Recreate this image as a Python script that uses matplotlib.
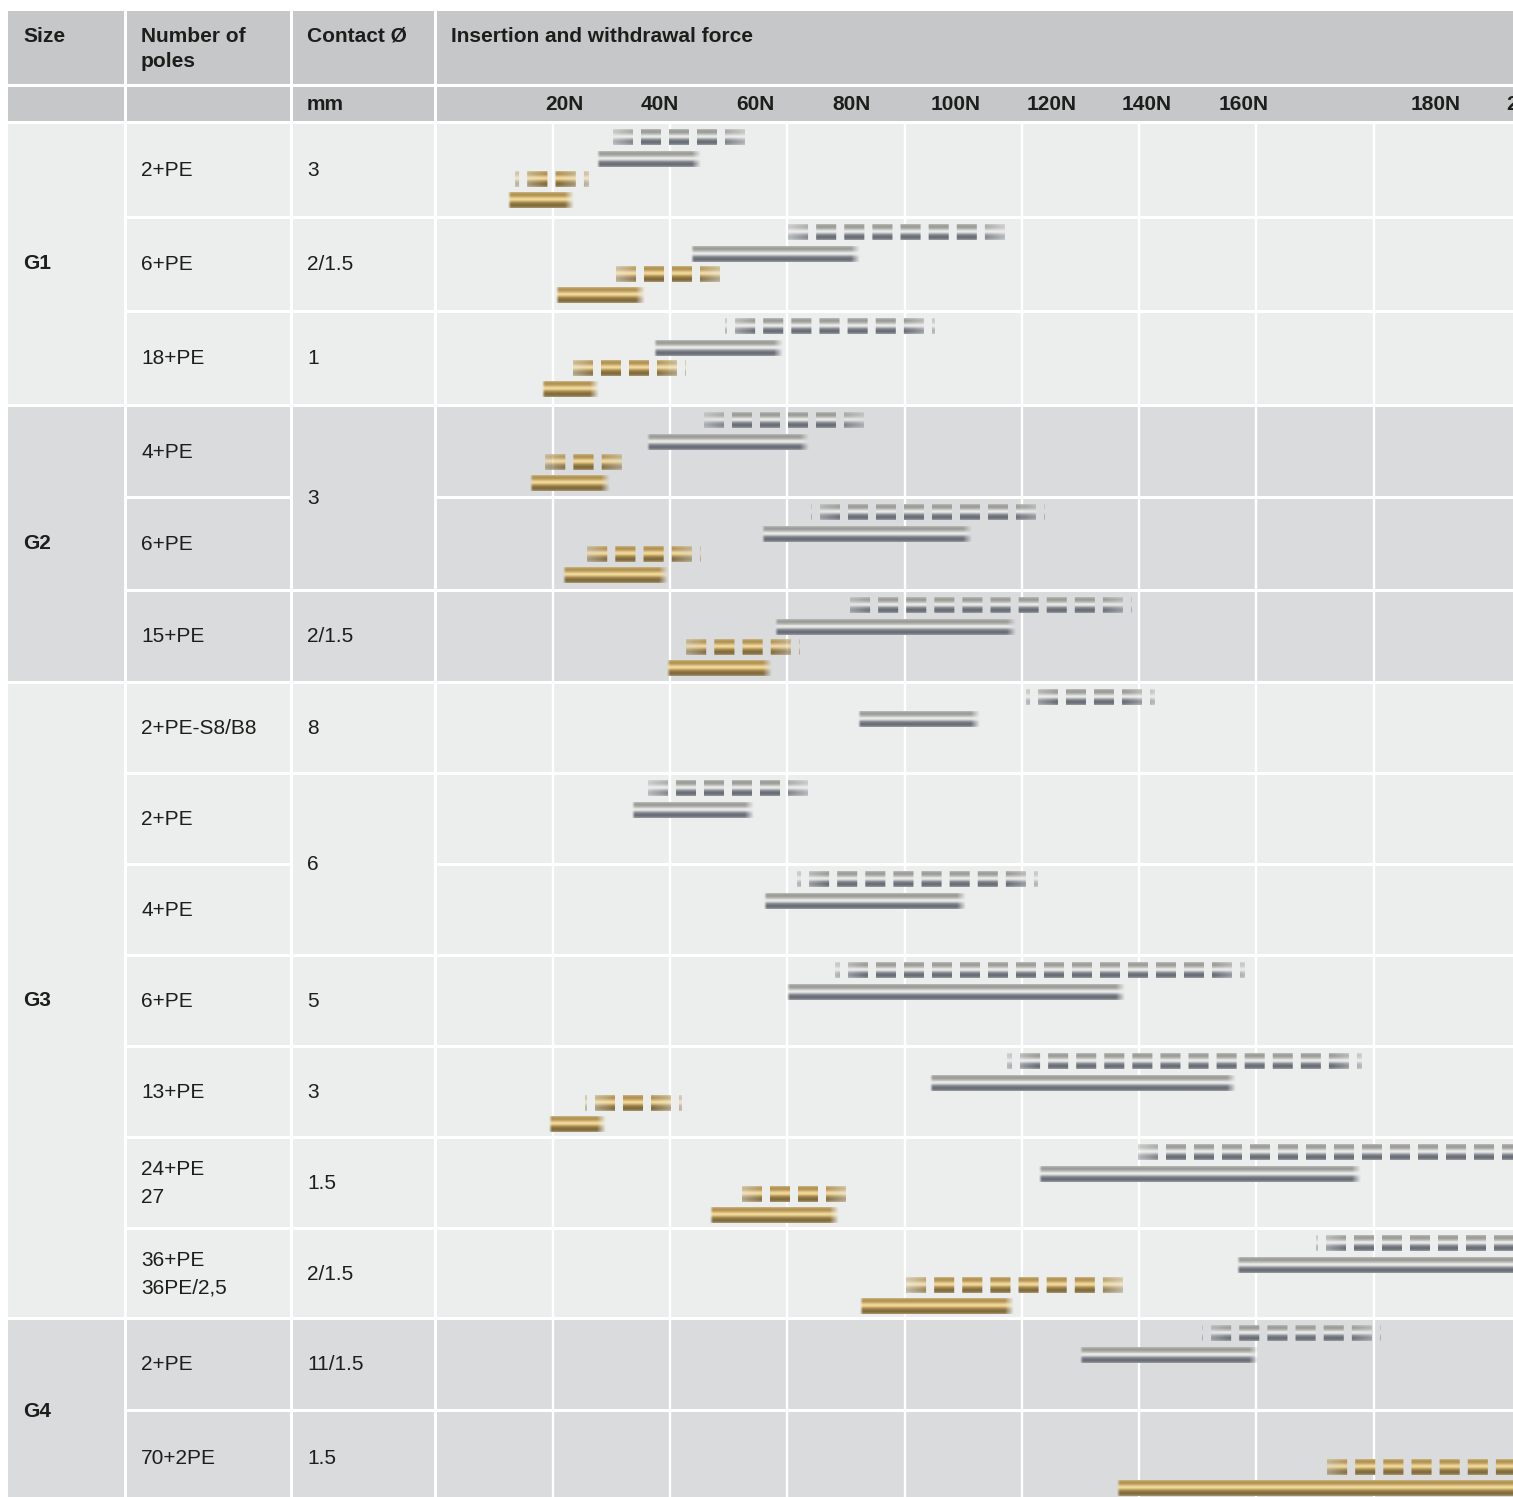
import numpy as np
import matplotlib.pyplot as plt
from matplotlib.colors import to_rgb
from matplotlib.patches import Rectangle

plt.rcParams['font.family'] = ['Liberation Sans', 'DejaVu Sans']

# ---- table content ----
sizes = ["G1", "G2", "G3", "G4"]
size_rows = [3, 3, 7, 2]
poles = ["2+PE", "6+PE", "18+PE", "4+PE", "6+PE", "15+PE", "2+PE-S8/B8", "2+PE",
         "4+PE", "6+PE", "13+PE", "24+PE\n27", "36+PE\n36PE/2,5", "2+PE", "70+2PE"]
contact = ["3", "2/1.5", "1", "3", "2/1.5", "8", "6", "5", "3", "1.5", "2/1.5", "11/1.5", "1.5"]
contact_rows = [1, 1, 1, 2, 1, 1, 2, 1, 1, 1, 1, 1, 1]
force_labels = ["20N", "40N", "60N", "80N", "100N", "120N", "140N", "160N", "180N", "200N"]
force_label_left = [18.8, 35.0, 51.3, 67.7, 84.4, 100.8, 117.0, 133.6, 166.3, 182.6]
grid_forces = [20, 40, 60, 80, 100, 120, 140, 160]

nan = np.nan
# forces in N (bars running past the right edge are cut off in the source)
silver_rod_lo = [27.5, 43.6, 37.2, 36.0, 55.7, 57.9, 72.0, 33.5, 56.1, 59.9, 84.3, 103.0, 136.8, 110.0, nan]
silver_rod_hi = [45.2, 72.3, 59.1, 63.5, 91.5, 99.0, 92.8, 54.3, 90.5, 117.4, 136.4, 157.8, 200, 140.3, nan]
silver_dash_lo = [30.0, 60.1, 49.4, 45.8, 64.0, 69.3, 100.8, 36.3, 61.6, 68.2, 97.4, 119.5, 150.2, 130.8, nan]
silver_dash_hi = [53.3, 97.0, 85.1, 73.2, 103.9, 118.6, 122.8, 63.7, 102.6, 138.1, 157.8, 200, 200, 161.2, nan]
gold_rod_lo = [12.4, 20.5, 18.1, 16.2, 21.7, 39.5, nan, nan, nan, nan, 19.4, 46.8, 72.4, nan, 116.3]
gold_rod_hi = [23.5, 35.6, 27.8, 29.8, 39.5, 57.3, nan, nan, nan, nan, 29.1, 68.7, 98.5, nan, 200]
gold_dash_lo = [13.6, 30.0, 22.1, 17.6, 24.4, 41.4, nan, nan, nan, nan, 25.5, 50.9, 80.3, nan, 150.7]
gold_dash_hi = [26.1, 49.6, 42.7, 32.8, 45.1, 62.1, nan, nan, nan, nan, 42.0, 71.3, 117.4, nan, 200]

# ---- layout (pixels) ----
W, H = 1513, 1497
col_edges = [8, 125.5, 291.5, 435.5, 1530]
head_edges = [11, 85.5, 122.5]
row_edges = [122.5, 217, 311, 405, 497.5, 590, 682, 773, 864, 955, 1046, 1137, 1228, 1318, 1410, 1505]
GAP = 1.5
PX = 117.25 / 20  # pixels per newton
HEAD_BG = '#c6c7c9'
LIGHT = '#eceeed'
DARK = '#dadbdd'
TXT = '#1d1d1b'
FS = 15

silver = ['#b4b5b1', '#9a9b97', '#a3a4a0', '#c6c7c3', '#f0f0ee', '#d0d2d4',
          '#8d9198', '#6c7179', '#6a6f77', '#8e9298']
gold = ['#c8ae74', '#ae9150', '#b99b5c', '#dcc083', '#f6e0a4', '#d9bb76',
        '#a58a52', '#85703f', '#806b3f', '#a18c62']
BAR_H = 16
OFF_SD, OFF_SR, OFF_GD, OFF_GR = 7, 29, 49, 70
BLOCK, PITCH = 20, 28


def profile(colors, n):
    c = np.array([to_rgb(h) for h in colors])
    t = np.linspace(0, 1, len(colors))
    tt = np.linspace(0, 1, n)
    return np.stack([np.interp(tt, t, c[:, k]) for k in range(3)], axis=1)


def draw_rod(ax, lo, hi, top, colors):
    ncol = max(int(round((hi - lo) * PX)), 2)
    img = np.ones((BAR_H, ncol, 4))
    img[:, :, :3] = profile(colors, BAR_H)[:, None, :]
    xs = np.arange(ncol) + 0.5
    img[:, :, 3] = (np.clip(xs / 3, 0, 1) * np.clip((ncol - xs) / 9, 0, 1))[None, :]
    ax.imshow(img, extent=(lo, hi, top + BAR_H, top), aspect='auto',
              interpolation='bilinear', zorder=3)


def draw_dash(ax, lo, hi, top, colors):
    ncol = max(int(round((hi - lo) * PX)), 2)
    xs = np.arange(ncol) + 0.5
    k = int((ncol + PITCH - BLOCK) // PITCH)
    shift = (ncol - (k * PITCH - (PITCH - BLOCK))) / 2
    on = ((xs - shift) % PITCH) < BLOCK
    d = np.minimum(xs, ncol - xs)
    fade = 0.4 + 0.6 * np.clip(d / 30, 0, 1)
    img = np.ones((BAR_H, ncol, 4))
    img[:, :, :3] = profile(colors, BAR_H)[:, None, :]
    img[:, :, 3] = (on * fade)[None, :]
    ax.imshow(img, extent=(lo, hi, top + BAR_H, top), aspect='auto',
              interpolation='bilinear', zorder=3)


fig = plt.figure(figsize=(W / 100, H / 100), dpi=100)
bg = fig.add_axes([0, 0, 1, 1])
bg.set_xlim(0, W)
bg.set_ylim(H, 0)
bg.axis('off')


def cell(x0, x1, y0, y1, color):
    bg.add_patch(Rectangle((x0 + GAP, y0 + GAP), x1 - x0 - 2 * GAP, y1 - y0 - 2 * GAP,
                           facecolor=color, edgecolor='none'))


# header
for r in range(2):
    for c in range(4):
        x0 = col_edges[c] - (GAP if c == 0 else 0)
        y0 = head_edges[r] - (GAP if r == 0 else 0)
        cell(x0, col_edges[c + 1], y0, head_edges[r + 1], HEAD_BG)

hy = 42
bg.text(23, hy, "Size", fontsize=FS, fontweight='bold', color=TXT, va='baseline')
bg.text(141, hy, "Number of", fontsize=FS, fontweight='bold', color=TXT, va='baseline')
bg.text(141, hy + 25, "poles", fontsize=FS, fontweight='bold', color=TXT, va='baseline')
bg.text(307, hy, "Contact Ø", fontsize=FS, fontweight='bold', color=TXT, va='baseline')
bg.text(451, hy, "Insertion and withdrawal force", fontsize=FS, fontweight='bold',
        color=TXT, va='baseline')
bg.text(307, 104, "mm", fontsize=FS, fontweight='bold', color=TXT, va='center')

# body: size column
row_color = []
start = 0
for g, n in enumerate(size_rows):
    col = LIGHT if g % 2 == 0 else DARK
    row_color += [col] * n
    y0, y1 = row_edges[start], row_edges[start + n]
    cell(col_edges[0] - GAP, col_edges[1], y0, y1, col)
    bg.text(23, (y0 + y1) / 2, sizes[g], fontsize=FS, fontweight='bold', color=TXT, va='center')
    start += n

# poles and chart cells
for i, p in enumerate(poles):
    y0, y1 = row_edges[i], row_edges[i + 1]
    cell(col_edges[1], col_edges[2], y0, y1, row_color[i])
    cell(col_edges[3], col_edges[4], y0, y1, row_color[i])
    bg.text(141, (y0 + y1) / 2 + 1, p, fontsize=FS, color=TXT, va='center', linespacing=1.55)

# contact column
start = 0
for v, n in zip(contact, contact_rows):
    y0, y1 = row_edges[start], row_edges[start + n]
    cell(col_edges[2], col_edges[3], y0, y1, row_color[start])
    bg.text(307, (y0 + y1) / 2 + 1, v, fontsize=FS, color=TXT, va='center')
    start += n

# chart region
ax = fig.add_axes([col_edges[3] / W, 0, (W - col_edges[3]) / W, 1])
ax.patch.set_visible(False)
ax.axis('off')
ax.vlines(grid_forces, row_edges[0], H, color='white', lw=1.7, zorder=1)

# the last label runs off the right edge, as in the source
for lab, xl in zip(force_labels, force_label_left):
    ax.text(xl, 104, lab, fontsize=FS, fontweight='bold', color=TXT, ha='left',
            va='center', clip_on=False)

for i in range(len(poles)):
    top = row_edges[i]
    if not np.isnan(silver_dash_lo[i]):
        draw_dash(ax, silver_dash_lo[i], silver_dash_hi[i], top + OFF_SD, silver)
        draw_rod(ax, silver_rod_lo[i], silver_rod_hi[i], top + OFF_SR, silver)
    if not np.isnan(gold_dash_lo[i]):
        draw_dash(ax, gold_dash_lo[i], gold_dash_hi[i], top + OFF_GD, gold)
        draw_rod(ax, gold_rod_lo[i], gold_rod_hi[i], top + OFF_GR, gold)

ax.set_xlim(0, (W - col_edges[3]) / PX)
ax.set_ylim(H, 0)

fig.savefig("out.png", dpi=100)
